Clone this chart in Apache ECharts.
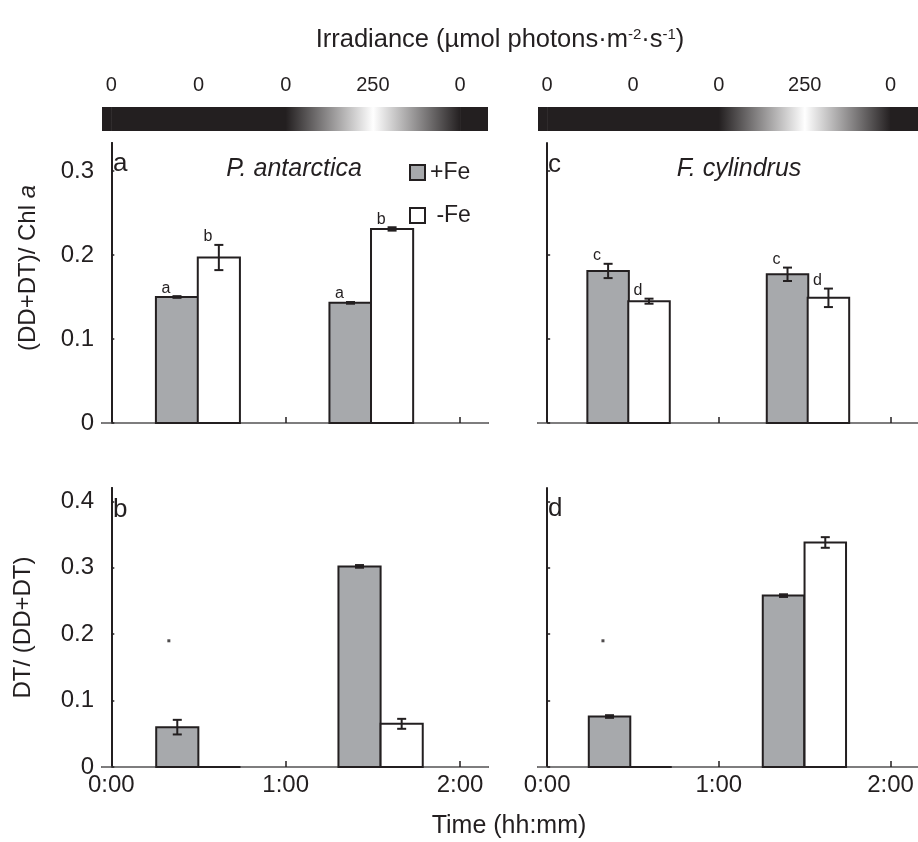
<!DOCTYPE html>
<html>
<head>
<meta charset="utf-8">
<script src="https://cdn.jsdelivr.net/npm/echarts@6/dist/echarts.min.js"></script>
<style>
  html, body { margin: 0; padding: 0; background: #fff; }
  #main { width: 918px; height: 842px; }
</style>
</head>
<body>
<div id="main"></div>
<script>
// light programme, minutes from start
var irrTimes = [0, 30, 60, 90, 120];
var irrValues = [0, 0, 0, 250, 0];

// a: P. antarctica, (DD+DT)/Chl a
var aPlusTime = [22.6, 82.3];
var aPlusVal = [0.150, 0.143];
var aPlusErr = [0.001, 0.001];
var aPlusSig = ['a', 'a'];
var aMinusTime = [37.0, 96.6];
var aMinusVal = [0.197, 0.231];
var aMinusErr = [0.015, 0.002];
var aMinusSig = ['b', 'b'];

// c: F. cylindrus, (DD+DT)/Chl a
var cPlusTime = [21.3, 84.0];
var cPlusVal = [0.181, 0.177];
var cPlusErr = [0.0085, 0.008];
var cPlusSig = ['c', 'c'];
var cMinusTime = [35.6, 98.3];
var cMinusVal = [0.145, 0.149];
var cMinusErr = [0.003, 0.011];
var cMinusSig = ['d', 'd'];

// b: P. antarctica, DT/(DD+DT)
var bPlusTime = [22.7, 85.4];
var bPlusVal = [0.060, 0.302];
var bPlusErr = [0.011, 0.002];
var bMinusTime = [37.2, 99.9];
var bMinusVal = [0, 0.065];
var bMinusErr = [0, 0.0075];
var bDot = [[19.8, 0.19]];

// d: F. cylindrus, DT/(DD+DT)
var dPlusTime = [21.8, 82.6];
var dPlusVal = [0.076, 0.258];
var dPlusErr = [0.002, 0.002];
var dMinusTime = [36.3, 97.2];
var dMinusVal = [0, 0.338];
var dMinusErr = [0, 0.008];
var dDot = [[19.5, 0.19]];

var timeTicks = [0, 60, 120];
var yTicksTop = [0, 0.1, 0.2, 0.3];
var yTicksBottom = [0, 0.1, 0.2, 0.3, 0.4];

var X_MIN = -3.2, X_MAX = 129.6;
var BAR_W = 14.5;
var INK = '#231f20';
var GREY = '#a7a9ac';
var FONT = 'Liberation Sans, Arial, sans-serif';

var chart = echarts.init(document.getElementById('main'));

function hhmm(v) {
  var h = Math.floor(v / 60), m = Math.round(v % 60);
  return h + ':' + (m < 10 ? '0' + m : m);
}

function shade(v) {
  var f = v / Math.max.apply(null, irrValues);
  var r = Math.round(35 + (255 - 35) * f), g = Math.round(31 + (255 - 31) * f), b = Math.round(32 + (255 - 32) * f);
  return 'rgb(' + r + ',' + g + ',' + b + ')';
}

var grids = [
  { left: 102, top: 107, width: 386, height: 24 },
  { left: 538, top: 107, width: 386, height: 24 },
  { left: 102, top: 143, width: 386, height: 280 },
  { left: 538, top: 143, width: 386, height: 280 },
  { left: 102, top: 488, width: 386, height: 279 },
  { left: 538, top: 488, width: 386, height: 279 }
];

var xAxes = [], yAxes = [], series = [];

// irradiance strips
[0, 1].forEach(function (g) {
  xAxes.push({
    type: 'value', gridIndex: g, position: 'top', min: X_MIN, max: X_MAX,
    axisLine: { show: false }, axisTick: { show: false }, splitLine: { show: false },
    axisLabel: {
      customValues: irrTimes, margin: 12, fontSize: 20, color: INK, fontFamily: FONT,
      formatter: function (v) { return String(irrValues[irrTimes.indexOf(v)]); }
    }
  });
  yAxes.push({ type: 'value', gridIndex: g, min: 0, max: 1, show: false });
  series.push({
    type: 'custom', xAxisIndex: g, yAxisIndex: g, silent: true,
    data: irrTimes.map(function (t, i) { return [t, irrValues[i]]; }),
    renderItem: function (params, api) {
      var i = params.dataIndex;
      var t0 = api.value(0), v0 = api.value(1);
      var p0 = api.coord([t0, 1]), yb = api.coord([t0, 0])[1];
      var h = yb - p0[1];
      var kids = [];
      if (i === 0) {
        var pl = api.coord([X_MIN, 1]);
        kids.push({ type: 'rect', shape: { x: pl[0], y: p0[1], width: p0[0] - pl[0] + 0.5, height: h }, style: { fill: shade(v0) } });
      }
      if (i < irrTimes.length - 1) {
        var v1 = irrValues[i + 1];
        var p1 = api.coord([irrTimes[i + 1], 1]);
        kids.push({
          type: 'rect', shape: { x: p0[0], y: p0[1], width: p1[0] - p0[0] + 0.5, height: h },
          style: { fill: new echarts.graphic.LinearGradient(0, 0, 1, 0, [
            { offset: 0, color: shade(v0) }, { offset: 1, color: shade(v1) }]) }
        });
      } else {
        var pr = api.coord([X_MAX, 1]);
        kids.push({ type: 'rect', shape: { x: p0[0], y: p0[1], width: pr[0] - p0[0], height: h }, style: { fill: shade(v0) } });
      }
      return { type: 'group', children: kids };
    }
  });
});

function barSeries(name, xi, yi, times, vals, errs, sigs, fill) {
  return {
    name: name, type: 'custom', xAxisIndex: xi, yAxisIndex: yi,
    itemStyle: { color: fill, borderColor: INK, borderWidth: 2 },
    data: times.map(function (t, i) { return [t, vals[i], errs[i]]; }),
    renderItem: function (params, api) {
      var t = api.value(0), v = api.value(1), e = api.value(2);
      var base = api.coord([t - BAR_W / 2, 0]);
      var top = api.coord([t + BAR_W / 2, v]);
      var cx = api.coord([t, 0])[0];
      var kids = [{
        type: 'rect',
        shape: { x: base[0], y: top[1], width: top[0] - base[0], height: base[1] - top[1] },
        style: { fill: fill, stroke: INK, lineWidth: 2 }
      }];
      var hiY = api.coord([t, v + e])[1], loY = api.coord([t, v - e])[1];
      if (e > 0) {
        var cap = 4.5, ls = { stroke: INK, lineWidth: 2 };
        kids.push({ type: 'line', shape: { x1: cx, y1: hiY, x2: cx, y2: loY }, style: ls });
        kids.push({ type: 'line', shape: { x1: cx - cap, y1: hiY, x2: cx + cap, y2: hiY }, style: ls });
        kids.push({ type: 'line', shape: { x1: cx - cap, y1: loY, x2: cx + cap, y2: loY }, style: ls });
      }
      var sig = sigs && sigs[params.dataIndex];
      if (sig) {
        kids.push({
          type: 'text',
          style: { text: sig, x: cx - 11, y: hiY - 8, align: 'center', verticalAlign: 'middle',
                   fontSize: 16, fontFamily: FONT, fill: INK }
        });
      }
      return { type: 'group', children: kids };
    }
  };
}

var panels = [
  { g: 2, max: 0.3333, ticks: yTicksTop, showX: false, showY: true, name: '(DD+DT)/ Chl {i|a}', gap: 62,
    plus: [aPlusTime, aPlusVal, aPlusErr, aPlusSig], minus: [aMinusTime, aMinusVal, aMinusErr, aMinusSig], right: true },
  { g: 3, max: 0.3333, ticks: yTicksTop, showX: false, showY: false,
    plus: [cPlusTime, cPlusVal, cPlusErr, cPlusSig], minus: [cMinusTime, cMinusVal, cMinusErr, cMinusSig] },
  { g: 4, max: 0.42, ticks: yTicksBottom, showX: true, showY: true, name: 'DT/ (DD+DT)', gap: 67,
    plus: [bPlusTime, bPlusVal, bPlusErr, null], minus: [bMinusTime, bMinusVal, bMinusErr, null], dot: bDot, right: true },
  { g: 5, max: 0.42, ticks: yTicksBottom, showX: true, showY: false,
    plus: [dPlusTime, dPlusVal, dPlusErr, null], minus: [dMinusTime, dMinusVal, dMinusErr, null], dot: dDot }
];

panels.forEach(function (p) {
  var xi = xAxes.length, yi = yAxes.length;
  xAxes.push({
    type: 'value', gridIndex: p.g, position: 'bottom', min: X_MIN, max: X_MAX,
    axisLine: { lineStyle: { color: INK, width: 2 } },
    axisTick: { customValues: timeTicks, inside: true, length: 6, lineStyle: { color: INK, width: 1.5 } },
    axisLabel: { show: p.showX, customValues: timeTicks, formatter: hhmm, margin: 6,
                 fontSize: 24, color: INK, fontFamily: FONT },
    splitLine: { show: false }
  });
  xAxes.push({
    type: 'value', gridIndex: p.g, position: 'top', min: X_MIN, max: X_MAX,
    axisLine: { lineStyle: { color: '#9d9d9d', width: 1.5 } },
    axisTick: { show: false }, axisLabel: { show: false }, splitLine: { show: false }
  });
  yAxes.push({
    type: 'value', gridIndex: p.g, position: 'left', min: 0, max: p.max,
    name: p.name || '', nameLocation: 'middle', nameGap: p.gap || 0,
    nameTextStyle: { fontSize: 24, color: INK, fontFamily: FONT, padding: p.g === 2 ? [0, 0, 0, 30] : 0,
                     rich: { i: { fontSize: 24, fontStyle: 'italic', color: INK, fontFamily: FONT } } },
    axisLine: { show: true, lineStyle: { color: INK, width: 2 } },
    axisTick: { customValues: p.ticks, inside: true, length: 3, lineStyle: { color: INK, width: 1.5 } },
    axisLabel: { show: p.showY, customValues: p.ticks, margin: 8, fontSize: 24, color: INK, fontFamily: FONT,
                 formatter: function (v) { return v === 0 ? '0' : v.toFixed(1); } },
    splitLine: { show: false }
  });
  yAxes.push({
    type: 'value', gridIndex: p.g, position: 'right', min: 0, max: p.max,
    axisLine: { show: !!p.right, lineStyle: { color: INK, width: 2 } },
    axisTick: { show: false }, axisLabel: { show: false }, splitLine: { show: false }
  });
  series.push(barSeries('+Fe', xi, yi, p.plus[0], p.plus[1], p.plus[2], p.plus[3], GREY));
  series.push(barSeries('-Fe', xi, yi, p.minus[0], p.minus[1], p.minus[2], p.minus[3], '#ffffff'));
  if (p.dot) {
    series.push({ type: 'scatter', xAxisIndex: xi, yAxisIndex: yi, data: p.dot, symbol: 'rect',
                  symbolSize: 3, itemStyle: { color: INK }, silent: true });
  }
});

function label(text, x, y, size, extra) {
  var st = { text: text, x: x, y: y, fontSize: size, fontFamily: FONT, fill: INK,
             align: 'center', verticalAlign: 'middle' };
  for (var k in extra) st[k] = extra[k];
  return { type: 'text', style: st, z: 100 };
}

chart.setOption({
  animation: false,
  backgroundColor: '#fff',
  grid: grids,
  xAxis: xAxes,
  yAxis: yAxes,
  legend: {
    orient: 'vertical', left: 404, top: 156, itemWidth: 15, itemHeight: 15, itemGap: 20,
    textStyle: { fontSize: 23, color: INK, fontFamily: FONT },
    formatter: function (n) { return n === '-Fe' ? ' -Fe' : n; },
    data: [
      { name: '+Fe', icon: 'rect', itemStyle: { color: GREY, borderColor: INK, borderWidth: 2 } },
      { name: '-Fe', icon: 'rect', itemStyle: { color: '#fff', borderColor: INK, borderWidth: 2 } }
    ]
  },
  series: series,
  graphic: [
    {
      type: 'text', z: 100,
      style: {
        text: 'Irradiance (µmol photons·m{s|-2}·s{s|-1})', x: 500, y: 40,
        align: 'center', verticalAlign: 'middle', fontSize: 25.5, fontFamily: FONT, fill: INK,
        rich: { s: { fontSize: 15, verticalAlign: 'top', fontFamily: FONT, fill: INK, padding: [0, 0, 8, 0] } }
      }
    },
    label('Time (hh:mm)', 509, 826, 25),
    label('a', 113, 164, 26, { align: 'left' }),
    label('c', 548, 165, 26, { align: 'left' }),
    label('b', 113, 510, 26, { align: 'left' }),
    label('d', 548, 509, 26, { align: 'left' }),
    label('P. antarctica', 294, 169, 25, { fontStyle: 'italic' }),
    label('F. cylindrus', 739, 169, 25, { fontStyle: 'italic' })
  ]
});
</script>
</body>
</html>
